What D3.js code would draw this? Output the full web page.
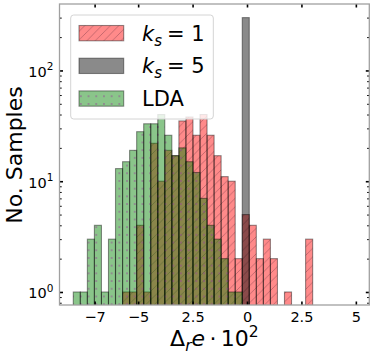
<!DOCTYPE html>
<html><head><meta charset="utf-8">
<script src="https://cdn.jsdelivr.net/npm/d3@7"></script>
<style>html,body{margin:0;padding:0;background:#fff;} svg{display:block;font-family:"DejaVu Sans",sans-serif;}</style>
</head><body><svg id="c" width="374" height="355"></svg>
<script>
// ---- data ----
const binEdges = [-7.980,-7.657,-7.333,-7.010,-6.686,-6.363,-6.040,-5.716,-5.393,-5.069,-4.746,-4.423,-4.099,-3.776,-3.452,-3.129,-2.806,-2.482,-2.159,-1.835,-1.512,-1.189,-0.865,-0.542,-0.218,0.105,0.428,0.752,1.075,1.399,1.722,2.045,2.369,2.692,3.016];
const countsKs1 = [0,0,0,0,0,0,0,1,1,4,1,22,10,19,17,35,38,26,40,26,17,11,10,2,5,4,2,3,2,0,1,0,0,3];
const countsKs5 = [0,0,0,0,0,0,0,0,0,0,0,0,0,0,0,0,0,0,0,0,0,0,0,0,300,0,0,0,0,0,0,0,0,0];
const countsLDA = [1,1,3,4,1,3,13,15,19,28,33,33,40,26,17,20,15,12,7,4,3,2,1,1,0,0,0,0,0,0,0,0,0,0];
const seriesNames = ["ks1","ks5","LDA"];
const xTicks = [-7,-5,-2.5,0,2.5,5];
const xTickLabels = ["\u22127","\u22125","2.5","0","2.5","5"];
const yTicks = [1,10,100];
const yTickExp = ["0","1","2"];
const yMinorTicks = [0.8,0.9,2,3,4,5,6,7,8,9,20,30,40,50,60,70,80,90,200,300];

// ---- layout ----
const L=59.5, R=369.3, T=4, B=305;
const svg = d3.select("#c");
const x = d3.scaleLinear().domain([-8.613,5.618]).range([L,R]);
const y = d3.scaleLog().domain([0.763,398]).range([B,T]);

const defs = svg.append("defs");
defs.append("clipPath").attr("id","clip").append("rect").attr("x",L).attr("y",T).attr("width",R-L).attr("height",B-T);
const ph = defs.append("pattern").attr("id","hatchPink").attr("patternUnits","userSpaceOnUse").attr("width",8.5).attr("height",8.5);
ph.append("path").attr("d","M-2,2 L2,-2 M0,8.5 L8.5,0 M6.5,10.5 L10.5,6.5").attr("stroke","rgba(60,20,40,0.32)").attr("stroke-width",0.9);
const pd = defs.append("pattern").attr("id","dotsGreen").attr("patternUnits","userSpaceOnUse").attr("width",7.7).attr("height",7.7);
pd.append("circle").attr("cx",3.85).attr("cy",3.85).attr("r",1.0).attr("fill","rgba(150,70,150,0.6)");

const styles = {
  ks1:{fill:"rgba(255,0,0,0.46)", pattern:"url(#hatchPink)"},
  ks5:{fill:"rgba(0,0,0,0.46)", pattern:null},
  LDA:{fill:"rgba(0,128,0,0.46)", pattern:"url(#dotsGreen)"}
};
const edgeColor = "rgba(0,0,0,0.42)";

const plot = svg.append("g").attr("clip-path","url(#clip)");
const allCounts = {ks1:countsKs1, ks5:countsKs5, LDA:countsLDA};
seriesNames.forEach(name=>{
  const data = allCounts[name].map((c,i)=>({c, x0:binEdges[i], x1:binEdges[i+1]})).filter(d=>d.c>0);
  const g = plot.append("g");
  g.selectAll("rect.f").data(data).join("rect")
    .attr("x",d=>x(d.x0)).attr("width",d=>x(d.x1)-x(d.x0))
    .attr("y",d=>y(d.c)).attr("height",d=>B+10-y(d.c))
    .attr("fill",styles[name].fill);
  if(styles[name].pattern){
    g.selectAll("rect.h").data(data).join("rect")
      .attr("x",d=>x(d.x0)).attr("width",d=>x(d.x1)-x(d.x0))
      .attr("y",d=>y(d.c)).attr("height",d=>B+10-y(d.c))
      .attr("fill",styles[name].pattern);
  }
  g.selectAll("rect.e").data(data).join("rect")
    .attr("x",d=>x(d.x0)).attr("width",d=>x(d.x1)-x(d.x0))
    .attr("y",d=>y(d.c)).attr("height",d=>B+10-y(d.c))
    .attr("fill","none").attr("stroke",edgeColor).attr("stroke-width",1.1);
});

// ---- axes ----
function styleAxis(g, w){ g.select(".domain").remove(); g.selectAll(".tick line").attr("stroke","#000").attr("stroke-width",w); }
const tmaj=3.5, tmin=2.2;
svg.append("g").attr("transform",`translate(0,${B})`).call(d3.axisBottom(x).tickValues(xTicks).tickSize(-tmaj).tickFormat((d,i)=>xTickLabels[i])).call(g=>{styleAxis(g,1.6);g.selectAll("text").attr("font-size",14.5).attr("font-family","DejaVu Sans").attr("fill","#000").attr("y",null).attr("dy",null).attr("transform","translate(0,17)");});
svg.append("g").attr("transform",`translate(0,${T})`).call(d3.axisTop(x).tickValues(xTicks).tickSize(-tmaj).tickFormat("")).call(g=>styleAxis(g,1.6));
const yl = svg.append("g").attr("transform",`translate(${L},0)`).call(d3.axisLeft(y).tickValues(yTicks).tickSize(-tmaj).tickFormat(""));
styleAxis(yl,1.6);
yl.selectAll(".tick").each(function(d,i){
  const t=d3.select(this).append("text").attr("x",-6).attr("y",6).attr("text-anchor","end").attr("fill","#000").attr("font-size",14.5).attr("font-family","DejaVu Sans");
  t.append("tspan").text("10");
  t.append("tspan").attr("font-size",10.5).attr("dy",-6.5).text(yTickExp[i]);
});
svg.append("g").attr("transform",`translate(${L},0)`).call(d3.axisLeft(y).tickValues(yMinorTicks).tickSize(-tmin).tickFormat("")).call(g=>styleAxis(g,1));
svg.append("g").attr("transform",`translate(${R},0)`).call(d3.axisRight(y).tickValues(yTicks).tickSize(-tmaj).tickFormat("")).call(g=>styleAxis(g,1.6));
svg.append("g").attr("transform",`translate(${R},0)`).call(d3.axisRight(y).tickValues(yMinorTicks).tickSize(-tmin).tickFormat("")).call(g=>styleAxis(g,1));

svg.append("rect").attr("x",L).attr("y",T).attr("width",R-L).attr("height",B-T).attr("fill","none").attr("stroke","#a0a0a0").attr("stroke-width",1.3);

// ---- labels ----
svg.append("text").attr("transform","translate(22,155) rotate(-90)").attr("text-anchor","middle").attr("font-size",22).attr("fill","#000").text("No. Samples");
const xl = svg.append("text").attr("x",(L+R)/2).attr("y",346).attr("text-anchor","middle").attr("font-size",22).attr("fill","#000");
xl.append("tspan").text("\u0394");
xl.append("tspan").attr("font-style","italic").attr("font-size",15.5).attr("dy",4.5).text("r");
xl.append("tspan").attr("font-style","italic").attr("dy",-4.5).text("e");
xl.append("tspan").text("\u2009\u00b7\u200910");
xl.append("tspan").attr("font-size",15.5).attr("dy",-9).text("2");

// ---- legend ----
const lg = svg.append("g");
lg.append("rect").attr("x",70.7).attr("y",15).attr("width",142.6).attr("height",104).attr("rx",3).attr("fill","rgba(255,255,255,0.8)").attr("stroke","#d4d4d4").attr("stroke-width",1);
const legendItems = [
  {name:"ks1", label:["k","s","1"]},
  {name:"ks5", label:["k","s","5"]},
  {name:"LDA", label:"LDA"}
];
legendItems.forEach((it,i)=>{
  const py = 25.5 + i*32.7;
  lg.append("rect").attr("x",79).attr("y",py).attr("width",44.7).attr("height",15.3).attr("fill",styles[it.name].fill);
  if(styles[it.name].pattern) lg.append("rect").attr("x",79).attr("y",py).attr("width",44.7).attr("height",15.3).attr("fill",styles[it.name].pattern);
  lg.append("rect").attr("x",79).attr("y",py).attr("width",44.7).attr("height",15.3).attr("fill","none").attr("stroke",edgeColor).attr("stroke-width",1.1);
  const t = lg.append("text").attr("x",142).attr("y",py+15).attr("font-size",21).attr("fill","#000");
  if(Array.isArray(it.label)){
    t.append("tspan").attr("font-style","italic").text(it.label[0]);
    t.append("tspan").attr("font-style","italic").attr("font-size",15).attr("dy",5).text(it.label[1]);
    t.append("tspan").attr("dy",-5).attr("dx",5).text("= "+it.label[2]);
  } else t.text(it.label);
});
</script></body></html>
